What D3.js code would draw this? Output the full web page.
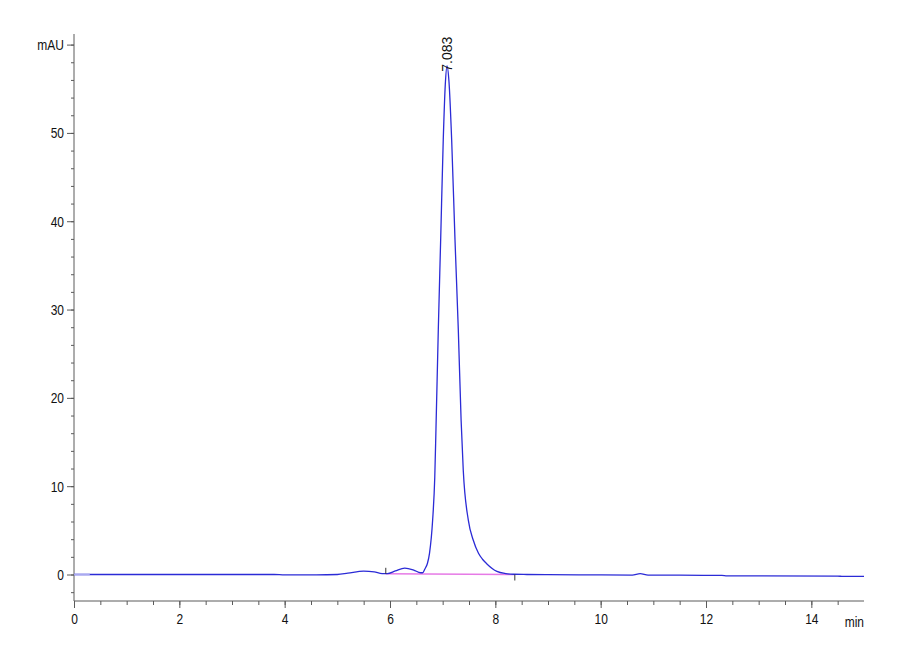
<!DOCTYPE html>
<html>
<head>
<meta charset="utf-8">
<script src="https://cdn.jsdelivr.net/npm/d3@7"></script>
<style>
  body { margin: 0; background: #fff; }
  text { font-family: "Liberation Sans", Arial, sans-serif; fill: #111; }
</style>
</head>
<body>
<svg id="chart" width="900" height="660"></svg>
<script>
"use strict";

// retention time (min) and absorbance (mAU)
const times = [0.0, 0.3, 2.0, 3.8, 4.0, 4.6, 5.0, 5.2, 5.5, 5.7, 5.85, 5.95, 6.1, 6.28, 6.45, 6.58,
               6.62, 6.66, 6.71, 6.75, 6.81, 6.85, 6.873, 6.917, 6.962, 7.011, 7.05, 7.083, 7.12,
               7.171, 7.234, 7.297, 7.35, 7.391, 7.487, 7.58, 7.68, 7.76, 7.84, 8.03, 8.2, 8.35, 8.6,
               9.0, 10.0, 10.6, 10.75, 10.9, 11.5, 12.3, 12.4, 14.5, 14.6, 15.0];
const mAU   = [0.0, 0.0, 0.0, 0.0, -0.05, -0.05, 0.0, 0.15, 0.38, 0.3, 0.1, 0.1, 0.4, 0.72, 0.5, 0.2,
               0.2, 0.6, 1.25, 2.4, 6.2, 11.0, 16.5, 27.7, 37.9, 49.2, 55.5, 57.6, 55.8,
               49.2, 37.9, 27.7, 17.5, 11.8, 6.15, 3.9, 2.4, 1.7, 1.2, 0.35, 0.1, 0.03, 0.0,
               -0.02, -0.05, -0.06, 0.1, -0.06, -0.08, -0.1, -0.15, -0.18, -0.22, -0.22];

// integration baseline under the main peak
const baseTimes = [5.92, 8.37];
const baseMAU   = [0.08, 0.0];

const peakTime = 7.083;
const peakLabel = "7.083";

const yTickLabels = [0, 10, 20, 30, 40, 50];
const xTickLabels = [0, 2, 4, 6, 8, 10, 12, 14];

const svg = d3.select('#chart');

const x = d3.scaleLinear().domain([0, 15]).range([74, 864]);
const y = d3.scaleLinear().domain([-3, 61.2]).range([601, 34]);

const axisColor = '#5a5a5a';
const squeeze = 0.8;   // the labels in the original are narrow

/*-- Y axis ------------------------------------------------------------------*/
const yAxisG = svg.append('g').attr('transform', 'translate(' + x(0) + ',0)');

yAxisG.append('g')
      .call(d3.axisLeft(y).tickValues(d3.range(-2, 61, 2)).tickSize(3).tickFormat(''))
      .call(g => g.select('.domain').remove());

yAxisG.append('g')
      .call(d3.axisLeft(y).tickValues(yTickLabels.concat([60])).tickSize(7)
               .tickFormat(d => d === 60 ? 'mAU' : d))
      .call(g => g.select('.domain').remove())
      .selectAll('text')
      .attr('x', -10 / squeeze)
      .attr('transform', 'scale(' + squeeze + ',1)')
      .style('font-size', '15px');

yAxisG.append('line')
      .attr('y1', y(-3)).attr('y2', y(61.2))
      .attr('stroke', axisColor);

/*-- X axis ------------------------------------------------------------------*/
const xAxisG = svg.append('g').attr('transform', 'translate(0,' + y(-3) + ')');

xAxisG.append('g')
      .call(d3.axisBottom(x).tickValues(d3.range(0.5, 15, 0.5)).tickSize(4).tickFormat(''))
      .call(g => g.select('.domain').remove());

xAxisG.append('g')
      .call(d3.axisBottom(x).tickValues(xTickLabels).tickSize(7).tickFormat(d3.format('d')))
      .call(g => g.select('.domain').remove())
      .selectAll('text')
      .attr('y', 12)
      .attr('transform', 'scale(' + squeeze + ',1)')
      .style('font-size', '15px');

xAxisG.append('line')
      .attr('x1', x(0)).attr('x2', x(15))
      .attr('stroke', axisColor);

xAxisG.append('text')
      .attr('x', x(15) / squeeze)
      .attr('y', 26)
      .attr('transform', 'scale(' + squeeze + ',1)')
      .attr('text-anchor', 'end')
      .style('font-size', '15px')
      .text('min');

svg.selectAll('.tick line').attr('stroke', axisColor);
svg.selectAll('.tick text').style('fill', '#111');

/*-- Trace -------------------------------------------------------------------*/
const trace = times.map((t, i) => [t, mAU[i]]);

const line = d3.line()
               .x(d => x(d[0]))
               .y(d => y(d[1]))
               .curve(d3.curveMonotoneX);

svg.append('path')
   .datum(baseTimes.map((t, i) => [t, baseMAU[i]]))
   .attr('d', line)
   .attr('fill', 'none')
   .attr('stroke', '#e67ae6')
   .attr('stroke-width', 1.5);

svg.append('path')
   .datum(trace)
   .attr('d', line)
   .attr('fill', 'none')
   .attr('stroke', '#2b2bd6')
   .attr('stroke-width', 1.3);

// the first few seconds are drawn paler in the original
svg.append('path')
   .datum(trace.slice(0, 2))
   .attr('d', line)
   .attr('fill', 'none')
   .attr('stroke', '#a9a9f0')
   .attr('stroke-width', 1.6);

// start / end markers of the integration
svg.append('line')
   .attr('x1', x(baseTimes[0])).attr('x2', x(baseTimes[0]))
   .attr('y1', y(baseMAU[0]) - 6).attr('y2', y(baseMAU[0]))
   .attr('stroke', '#333');

svg.append('line')
   .attr('x1', x(baseTimes[1])).attr('x2', x(baseTimes[1]))
   .attr('y1', y(baseMAU[1])).attr('y2', y(baseMAU[1]) + 6)
   .attr('stroke', '#333');

/*-- Peak label --------------------------------------------------------------*/
svg.append('text')
   .attr('transform', 'translate(' + (x(peakTime) + 5) + ',' + (y(57.6) + 6) + ') rotate(-90)')
   .attr('text-anchor', 'start')
   .style('font-size', '14px')
   .text(peakLabel);
</script>
</body>
</html>
